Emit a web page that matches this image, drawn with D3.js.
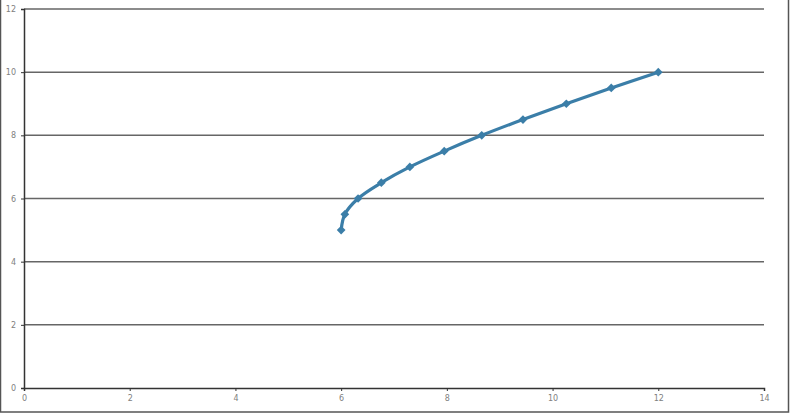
<!DOCTYPE html>
<html>
<head>
<meta charset="utf-8">
<script src="https://cdn.jsdelivr.net/npm/d3@7"></script>
<style>
  body { margin: 0; background: #fff; }
  svg { display: block; }
</style>
</head>
<body>
<div id="chart"></div>
<script>
// chart size and plot margins
const width = 791;
const height = 417;
const margin = {left: 24, right: 27, top: 9, bottom: 29};

// series
const xValues = [6, 6.07, 6.32, 6.76, 7.3, 7.95, 8.66, 9.44, 10.26, 11.11, 12];
const yValues = [5, 5.5, 6, 6.5, 7, 7.5, 8, 8.5, 9, 9.5, 10];
const xTicks = [0, 2, 4, 6, 8, 10, 12, 14];
const yTicks = [0, 2, 4, 6, 8, 10, 12];

const points = xValues.map((x, i) => ({x: x, y: yValues[i]}));

const svg = d3.select("#chart")
  .append("svg")
  .attr("width", width)
  .attr("height", height);

// frame round the picture
svg.append("rect")
  .attr("x", 0.5).attr("y", -2)
  .attr("width", width - 3).attr("height", height - 3)
  .attr("fill", "none")
  .attr("stroke", "#555")
  .attr("stroke-width", 1.5);

const xScale = d3.scaleLinear()
  .domain([0, 14])
  .range([margin.left, width - margin.right]);

const yScale = d3.scaleLinear()
  .domain([0, 12])
  .range([height - margin.bottom, margin.top]);

// horizontal grid lines
svg.append("g")
  .selectAll("line")
  .data(yTicks.filter(d => d > 0))
  .enter()
  .append("line")
    .attr("x1", xScale(0))
    .attr("x2", xScale(14))
    .attr("y1", d => yScale(d))
    .attr("y2", d => yScale(d))
    .attr("stroke", "#666")
    .attr("stroke-width", 1.5);

// y axis
const yAxis = svg.append("g")
  .attr("transform", `translate(${margin.left},0)`)
  .call(d3.axisLeft(yScale).tickValues(yTicks).tickSize(3).tickPadding(5));
yAxis.select(".domain").attr("stroke", "#333").attr("stroke-width", 1.5);
yAxis.selectAll(".tick line").attr("stroke", "#333");
yAxis.selectAll("text").attr("fill", "#808080").attr("font-size", "8px")
  .attr("font-family", "DejaVu Sans, sans-serif");

// x axis
const xAxis = svg.append("g")
  .attr("transform", `translate(0,${height - margin.bottom})`)
  .call(d3.axisBottom(xScale).tickValues(xTicks).tickSize(3).tickPadding(4));
xAxis.select(".domain").attr("stroke", "#333").attr("stroke-width", 1.5);
xAxis.selectAll(".tick line").attr("stroke", "#333");
xAxis.selectAll("text").attr("fill", "#808080").attr("font-size", "8px")
  .attr("font-family", "DejaVu Sans, sans-serif");

// smooth series line
const line = d3.line()
  .x(d => xScale(d.x))
  .y(d => yScale(d.y))
  .curve(d3.curveCatmullRom);

svg.append("path")
  .datum(points)
  .attr("d", line)
  .attr("fill", "none")
  .attr("stroke", "#3b7ea8")
  .attr("stroke-width", 3.2);

// diamond markers (rotated squares)
svg.selectAll(".marker")
  .data(points)
  .enter()
  .append("path")
    .attr("class", "marker")
    .attr("d", d3.symbol().type(d3.symbolSquare).size(38))
    .attr("transform", d => `translate(${xScale(d.x)},${yScale(d.y)}) rotate(45)`)
    .attr("fill", "#3b7ea8");
</script>
</body>
</html>
